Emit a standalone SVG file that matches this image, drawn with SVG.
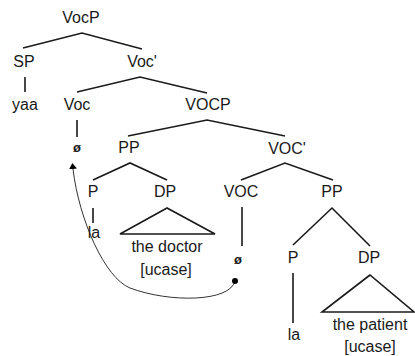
<svg xmlns="http://www.w3.org/2000/svg" width="415" height="356" viewBox="0 0 415 356">
<style>
text{font-family:"Liberation Sans",Arial,sans-serif;font-size:16px;fill:#1a1a1a;text-anchor:middle}
.e{font-size:13px;font-weight:bold}
.br line,.br polyline,.br polygon{stroke:#1a1a1a;stroke-width:1.6;fill:none}
.mv{stroke:#333;stroke-width:1;fill:none}
</style>
<defs>
<marker id="ah" markerWidth="8" markerHeight="8" refX="0" refY="4" orient="auto" markerUnits="userSpaceOnUse">
<path d="M0,0 L6,4 L0,8 Z" fill="#000"/>
</marker>
</defs>
<rect width="415" height="356" fill="#fff"/>
<g id="connectors" class="br">
<polyline points="23,48 82,33 142,49"/>
<line x1="25" y1="77" x2="25" y2="92"/>
<polyline points="77,92 140,77 207,93"/>
<line x1="77" y1="120" x2="77" y2="137"/>
<polyline points="128,136 207,120 285,136"/>
<polyline points="93,180 130,163 167,180"/>
<line x1="93" y1="208" x2="93" y2="223"/>
<polygon points="167,208 120,234 215,234"/>
<polyline points="241,180 285,163 333,180"/>
<line x1="242" y1="207" x2="242" y2="246"/>
<polyline points="293,245 332,208 370,246"/>
<line x1="293" y1="273" x2="293" y2="323"/>
<polygon points="370,275 322,312 414,312"/>
</g>
<g id="movement">
<path class="mv" d="M235,281 C230,302 170,303 130,288 C105,278 79,220 73,169" marker-end="url(#ah)"/>
<circle cx="235" cy="281" r="3" fill="#000"/>
</g>
<g id="n-VocP"><text x="81" y="23">VocP</text></g>
<g id="n-SP"><text x="24" y="67">SP</text></g>
<g id="n-Voc1"><text x="142" y="67">Voc'</text></g>
<g id="n-yaa"><text x="25" y="110">yaa</text></g>
<g id="n-Voc"><text x="77" y="110">Voc</text></g>
<g id="n-VOCP"><text x="208" y="110">VOCP</text></g>
<g id="n-null1"><text class="e" x="77" y="152">ø</text></g>
<g id="n-PP1"><text x="129" y="153">PP</text></g>
<g id="n-VOC1"><text x="287" y="154">VOC'</text></g>
<g id="n-P1"><text x="93" y="197">P</text></g>
<g id="n-DP1"><text x="165" y="197">DP</text></g>
<g id="n-VOC"><text x="241" y="197">VOC</text></g>
<g id="n-PP2"><text x="332" y="197">PP</text></g>
<g id="n-la1"><text x="94" y="238">la</text></g>
<g id="n-doctor"><text x="167" y="252">the doctor</text><text x="166" y="275">[ucase]</text></g>
<g id="n-null2"><text class="e" x="238" y="264">ø</text></g>
<g id="n-P2"><text x="293" y="263">P</text></g>
<g id="n-DP2"><text x="369" y="263">DP</text></g>
<g id="n-la2"><text x="294" y="340">la</text></g>
<g id="n-patient"><text x="370" y="330">the patient</text><text x="370" y="352">[ucase]</text></g>
</svg>
